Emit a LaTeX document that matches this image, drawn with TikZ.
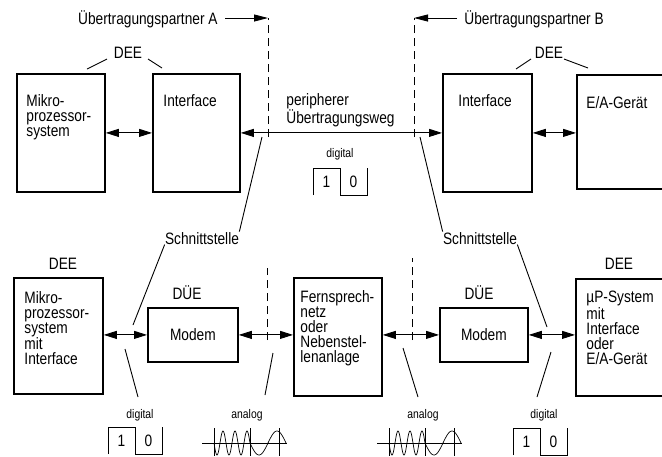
\documentclass[tikz,border=0pt]{standalone}
\usepackage{fontspec}
\setmainfont{Liberation Sans}[FakeStretch=0.83]
\usetikzlibrary{
    arrows.meta,
    positioning
}
\tikzset{
  every path/.style={
    black,
    line width=0.9pt
  },
  kasten/.style={
    draw,
    line width=1.8pt,
    inner sep=0pt,
    anchor=north west,
    font=\fontsize{16.5}{15}\selectfont
  },
  txt/.style={
    anchor=north west,
    inner sep=0pt,
    align=left,
    font=\fontsize{16.5}{15}\selectfont
  },
  lbl/.style={
    anchor=base,
    inner sep=0pt,
    font=\fontsize{16.5}{15}\selectfont
  },
  klein/.style={
    anchor=base,
    inner sep=0pt,
    font=\fontsize{12.5}{12}\selectfont
  },
  ziffer/.style={
    inner sep=0pt,
    font=\fontsize{16.5}{15}\selectfont
  },
  pfeil/.style={
    {Triangle[length=13pt,width=8pt]}-{Triangle[length=13pt,width=8pt]}
  },
  trenn/.style={
    dash pattern=on 8pt off 5pt
  },
  bits/.pic={
    \draw (0,27) -- (0,0) -- (27,0) -- (27,27) -- (54,27) -- (54,0);
    \node[ziffer] (-eins) at (13.5,14) {1};
    \node[ziffer] (-null) at (40.5,14) {0};
  },
  welle/.pic={
    \draw[line width=0.7pt] (0,0) -- (85,0);
    \foreach \t in {12,48,77}
      \draw[line width=0.7pt] (\t,-15) -- (\t,13);
    \draw[line width=0.7pt] plot[domain=12:48,samples=90,smooth]
      (\x,{12*sin(30*(\x-12))});
    \draw[line width=0.7pt] plot[domain=48:84,samples=50,smooth]
      (\x,{12*sin(10*(\x-48))});
  }
}

\begin{document}
\begin{tikzpicture}[x=1pt,y=-1pt]
    \useasboundingbox (0,0) rectangle (662,456);

    % Partner A / B
    \node[lbl,anchor=base east] (partA) at (218,24) {Übertragungspartner A};
    \node[lbl,anchor=base west] (partB) at (464,24) {Übertragungspartner B};
    \coordinate (tA) at (268,18);
    \coordinate (tB) at (414,18);
    \draw[-{Triangle[length=14pt,width=7pt]}] ([xshift=7pt]partA.east |- tA) -- (tA);
    \draw[-{Triangle[length=14pt,width=7pt]}] ([xshift=-7pt]partB.west |- tB) -- (tB);
    \draw[trenn] (268,137) -- (tA);
    \draw[trenn] (414,137) -- (tB);

    % oben: DEE
    \node[kasten,minimum width=88pt,minimum height=118pt] (mps) at (16,73) {};
    \node[kasten,minimum width=87pt,minimum height=118pt] (ifA) at (152,73) {};
    \node[kasten,minimum width=89pt,minimum height=118pt] (ifB) at (442,73) {};
    \node[kasten,minimum width=90pt,minimum height=114pt] (eag) at (576,74) {};
    \node[txt] (mpsT) at (26,94) {Mikro-\\prozessor-\\system};
    \node[txt] (ifAT) at (163,94) {Interface};
    \node[txt] (ifBT) at (458,94) {Interface};
    \node[txt] (eagT) at (586,96) {E/A-Gerät};

    \node[lbl] (deeA) at (128,58) {DEE};
    \node[lbl] (deeB) at (549,58) {DEE};
    \draw (87,69) -- (107,59);
    \draw (148,59) -- (162,68);
    \draw (516,69) -- (531,59);
    \draw (564,59) -- (588,68);

    \draw[pfeil] (mps.east) -- (ifA.west);
    \draw[pfeil] (ifA.east) -- (ifB.west);
    \draw[pfeil] (ifB.east) -- (ifB.east -| eag.west);

    \node[txt] (weg) at (286,93) {peripherer\\Übertragungsweg};
    \node[klein] (digM) at (340,157) {digital};
    \pic (bitM) at (313,168) {bits};

    % Schnittstelle
    \node[lbl] (schnA) at (202,244) {Schnittstelle};
    \node[lbl] (schnB) at (480,244) {Schnittstelle};
    \draw (262,137) -- (schnA.north east);
    \draw (420,137) -- (schnB.north west);
    \draw (schnA.south west) -- (133,325);
    \draw (schnB.south east) -- (547,327);

    % unten
    \node[lbl] (deeC) at (63,269) {DEE};
    \node[lbl] (deeD) at (619,269) {DEE};
    \node[lbl] (dueA) at (187,299) {DÜE};
    \node[lbl] (dueB) at (479,299) {DÜE};

    \node[kasten,minimum width=89pt,minimum height=116pt] (mik) at (13,277) {};
    \node[kasten,minimum width=90pt,minimum height=54pt] (modA) at (147,307) {Modem};
    \node[kasten,minimum width=88pt,minimum height=118pt] (fern) at (293,277) {};
    \node[kasten,minimum width=88pt,minimum height=54pt] (modB) at (439,307) {Modem};
    \node[kasten,minimum width=90pt,minimum height=117pt] (mup) at (575,278) {};
    \node[txt] (mikT) at (24,291) {Mikro-\\prozessor-\\system\\mit\\Interface};
    \node[txt] (fernT) at (300,290) {Fernsprech-\\netz\\oder\\Nebenstel-\\lenanlage};
    \node[txt] (mupT) at (586,291) {µP-System\\mit\\Interface\\oder\\E/A-Gerät};

    \draw[pfeil] (mik.east |- modA.west) -- (modA.west);
    \draw[pfeil] (modA.east) -- (modA.east -| fern.west);
    \draw[pfeil] (modB.west -| fern.east) -- (modB.west);
    \draw[pfeil] (modB.east) -- (modB.east -| mup.west);

    \draw[trenn] (267,340) -- (267,268);
    \draw[trenn] (412,340) -- (412,258);

    % digital / analog
    \draw (125,349) -- (138,397);
    \draw (273,353) -- (265,395);
    \draw (403,348) -- (418,397);
    \draw (551,352) -- (537,397);
    \node[klein] (digA) at (140,418) {digital};
    \node[klein] (anaA) at (247,418) {analog};
    \node[klein] (anaB) at (423,418) {analog};
    \node[klein] (digB) at (544,418) {digital};

    \pic (bitA) at (108,427) {bits};
    \pic (bitB) at (513,428) {bits};
    \pic (wA) at (202,443) {welle};
    \pic (wB) at (377,443) {welle};
\end{tikzpicture}
\end{document}
